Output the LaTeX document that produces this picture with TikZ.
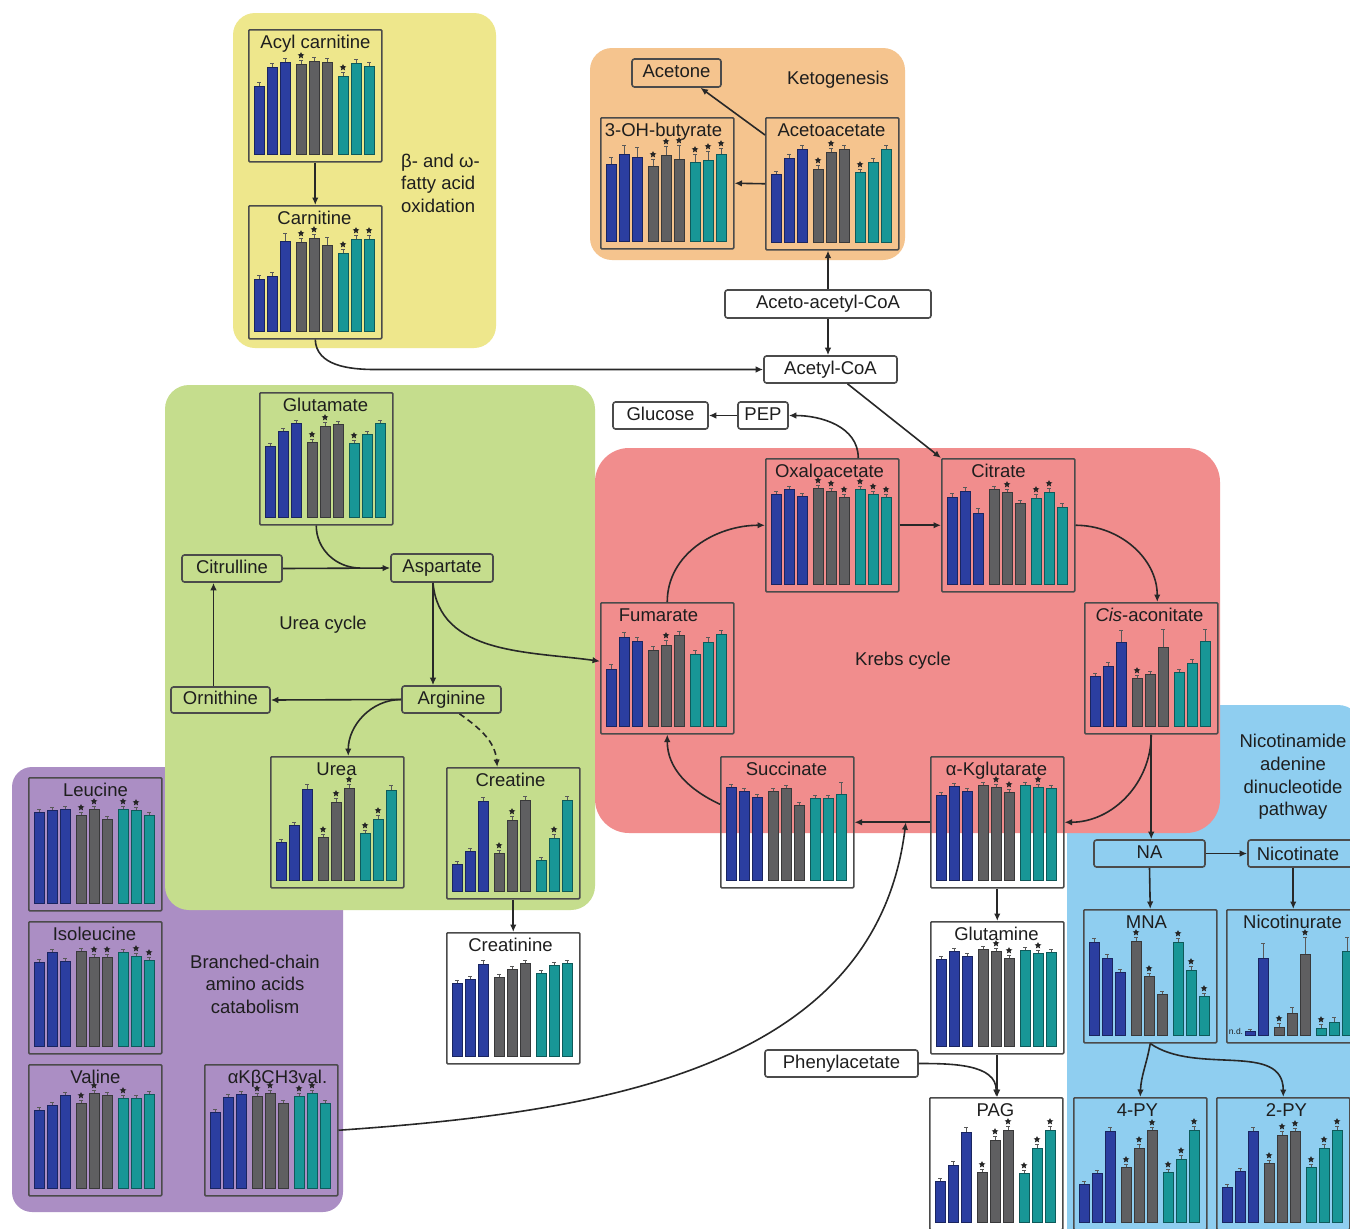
\documentclass[tikz,border=0pt]{standalone}
\usepackage{fontspec}
\setmainfont{Liberation Sans}
\usetikzlibrary{arrows.meta,shapes.geometric,calc}
\definecolor{pyel}{RGB}{238,231,140}
\definecolor{pora}{RGB}{245,196,142}
\definecolor{pgrn}{RGB}{197,221,141}
\definecolor{pred}{RGB}{241,141,141}
\definecolor{ppur}{RGB}{171,142,196}
\definecolor{pblu}{RGB}{143,206,240}
\definecolor{bar0}{RGB}{43,62,160}
\definecolor{bar1}{RGB}{95,95,97}
\definecolor{bar2}{RGB}{24,150,150}
\definecolor{boxc}{RGB}{75,75,75}
\definecolor{linec}{RGB}{40,40,40}
\definecolor{txtc}{RGB}{30,30,30}
\newcommand\labf{\fontsize{18.5}{22.6}\selectfont}
\tikzset{
  cbox/.style={draw=boxc, line width=1.5pt, minimum width=133pt, inner sep=0, rounded corners=1pt},
  lbox/.style={draw=boxc, line width=1.6pt, rounded corners=2.5pt, inner sep=0, font=\labf, text=txtc, text height=13pt, text depth=4pt},
  labt/.style={font=\labf, text=txtc, inner sep=0},
  arr/.style={draw=linec, line width=1.6pt, -{Latex[length=7.5pt,width=6.5pt]}},
  plainline/.style={draw=linec, line width=1.6pt},
  errb/.style={draw=black!65, line width=0.8pt},
  starm/.style={star, star points=5, star point ratio=2.1, minimum size=7pt, inner sep=0, fill=black!85},
}
% #1 name, #2 x, #3 y, #4 height, #5 title, #6 title shift, #7 bars h/star/err
\newcommand\barchart[7]{%
  \node[cbox, minimum height=#4pt, anchor=north west] (#1) at (#2,#3) {};
  \pgfmathsetmacro\tx{#2+66.5+#6}%
  \pgfmathsetmacro\ty{#3+19}%
  \node[labt, anchor=base] (#1-t) at (\tx,\ty) {#5};
  \foreach \hh/\ss/\ee [count=\i from 0] in {#7} {%
    \pgfmathsetmacro\bx{#2+6+13*\i+3*floor(\i/3)}%
    \pgfmathsetmacro\yb{#3+#4-7}%
    \pgfmathsetmacro\yt{\yb-\hh}%
    \pgfmathtruncatemacro\grp{floor(\i/3)}%
    \ifdim\hh pt>0pt
      \filldraw[fill=bar\grp, draw=bar\grp!60!black, line width=0.6pt] (\bx,\yb) rectangle (\bx+10,\yt);
      \draw[errb] (\bx+5,\yt) -- (\bx+5,\yt-\ee) (\bx+3,\yt-\ee) -- (\bx+7,\yt-\ee);
      \ifnum\ss=1 \node[starm] (#1-s\i) at (\bx+5,\yt-\ee-4.5) {};\fi
    \fi
  }%
}
\begin{document}
\begin{tikzpicture}[x=1pt,y=-1pt]
\useasboundingbox (0,0) rectangle (1350,1229);
\clip (0,0) rectangle (1350,1229);
\fill[white] (0,0) rectangle (1350,1229);
% panels
\fill[ppur, rounded corners=20pt] (12,767) rectangle (343,1212);
\fill[pgrn, rounded corners=24pt] (165,385) rectangle (595,910);
\fill[pblu, rounded corners=24pt] (1067,705) rectangle (1362,1260);
\fill[pred, rounded corners=34pt] (595,448) rectangle (1220,833);
\fill[pyel, rounded corners=22pt] (233,13) rectangle (496,348);
\fill[pora, rounded corners=22pt] (590,48) rectangle (905,260);
% panel texts
\node[labt, align=left, anchor=west] (betatxt) at (401,183) {β- and ω-\\fatty acid\\oxidation};
\node[labt] (ketotxt) at (838,80) {Ketogenesis};
\node[labt] (ureatxt) at (323,625) {Urea cycle};
\node[labt] (krebstxt) at (903,661) {Krebs cycle};
\node[labt, align=center] (bcaatxt) at (255,984) {Branched-chain\\amino acids\\catabolism};
\node[labt, align=center] (nadtxt) at (1293,777) {Nicotinamide\\adenine\\dinucleotide\\pathway};
% charts
\barchart{acyl}{248}{29}{132}{Acyl carnitine}{1}{68/0/4,87/0/4,92/0/4,90/1/4,93/0/4,92/0/4,78/1/4,91/0/4,88/0/4}
\barchart{carn}{248}{205}{133}{Carnitine}{0}{52/0/4,55/0/4,90/0/8,89/1/4,93/1/4,86/0/8,78/1/4,92/1/4,92/1/4}
\barchart{ohb}{600}{117}{131}{3-OH-butyrate}{-3}{77/0/7,87/0/9,84/0/10,75/1/7,86/1/9,82/1/14,79/1/8,81/1/9,87/1/6}
\barchart{aca}{765}{117}{132}{Acetoacetate}{0}{68/0/3,84/0/4,93/0/4,73/1/4,90/1/4,93/0/4,70/1/3,80/0/4,93/0/4}
\barchart{glu}{259}{392}{132}{Glutamate}{0}{71/0/3,86/0/3,94/0/3,75/1/3,91/1/4,93/0/3,74/1/3,83/0/3,94/0/3}
\barchart{oxa}{765}{458}{133}{Oxaloacetate}{-2}{90/0/3,95/0/3,88/0/3,96/1/3,93/1/3,87/1/3,95/1/3,90/1/3,87/1/3}
\barchart{cit}{941}{458}{133}{Citrate}{-9}{87/0/4,93/0/4,71/0/5,95/0/3,92/1/3,81/0/3,86/1/4,92/1/4,77/0/4}
\barchart{fum}{600}{602}{131}{Fumarate}{-8}{57/0/5,89/0/5,85/0/4,76/0/4,81/1/5,91/0/4,72/0/4,84/0/5,92/0/4}
\barchart{cis}{1084}{602}{131}{\textit{Cis}-aconitate}{-1}{50/0/3,60/0/4,84/0/12,48/1/3,52/0/3,79/0/18,54/0/3,63/0/4,85/0/12}
\barchart{suc}{720}{756}{131}{Succinate}{0}{93/0/3,89/0/3,83/0/3,89/0/3,92/0/3,75/0/3,82/0/3,82/0/3,86/0/12}
\barchart{akg}{930}{756}{131}{α-Kglutarate}{0}{85/0/3,94/0/3,89/0/3,95/0/3,93/1/3,88/1/3,95/0/3,93/1/3,92/0/3}
\barchart{urea}{270}{756}{131}{Urea}{0}{38/0/3,55/0/3,91/0/5,43/1/3,78/1/4,92/1/4,47/1/3,61/1/4,90/0/5}
\barchart{crt}{446}{767}{131}{Creatine}{-2}{27/0/3,40/0/3,90/0/4,38/1/3,71/1/4,91/0/4,31/0/3,53/1/4,91/0/4}
\barchart{crn}{446}{932}{131}{Creatinine}{-2}{73/0/3,77/0/3,92/0/4,79/0/3,87/0/3,93/0/3,83/0/3,91/0/3,93/0/3}
\barchart{leu}{28}{777}{133}{Leucine}{1}{91/0/3,93/0/3,94/0/3,88/1/3,94/1/3,84/0/3,94/1/3,93/1/3,88/0/3}
\barchart{ile}{28}{921}{132}{Isoleucine}{0}{84/0/3,94/0/3,85/0/3,95/0/3,89/1/3,89/1/3,94/0/3,90/1/3,86/1/3}
\barchart{val}{28}{1064}{131}{Valine}{1}{78/0/3,83/0/3,93/0/3,85/1/3,95/1/3,93/0/3,90/1/3,90/0/3,94/0/3}
\barchart{akb}{204}{1064}{131}{αKβCH3val.}{7}{76/0/3,91/0/3,94/0/3,92/1/3,95/1/3,85/0/3,92/1/3,95/1/3,85/0/3}
\barchart{gln}{930}{921}{132}{Glutamine}{0}{87/0/3,95/0/3,90/0/3,97/0/3,95/1/3,88/1/3,96/0/3,93/1/3,94/0/3}
\barchart{pag}{929}{1097}{132}{PAG}{0}{41/0/3,57/0/4,90/0/5,50/1/3,82/1/4,92/1/4,49/1/3,74/1/4,92/1/4}
\barchart{mna}{1083}{909}{133}{MNA}{-3}{93/0/4,77/0/4,63/0/3,94/1/4,59/1/3,41/0/3,93/1/4,65/1/4,39/1/3}
\barchart{nicu}{1226}{909}{133}{Nicotinurate}{0}{0/0/0,4/0/2,77/0/15,8/1/4,22/0/6,81/1/17,7/1/4,13/0/5,84/0/14}
\barchart{pyf}{1073}{1097}{132}{4-PY}{-2}{38/0/3,49/0/3,91/0/4,55/1/3,74/1/4,92/1/3,50/1/3,63/1/4,92/1/4}
\barchart{pyt}{1216}{1097}{132}{2-PY}{4}{35/0/3,51/0/3,91/0/4,59/1/3,87/1/4,91/1/3,55/1/3,74/1/4,92/1/4}
\node[font=\fontsize{8.5}{9}\selectfont, inner sep=0, text=txtc] (nd) at (1236,1031) {n.d.};
% label boxes
\node[lbox, minimum width=89pt, minimum height=28pt] (acetone) at (676.5,73) {Acetone};
\node[lbox, minimum width=206pt, minimum height=28pt] (aacoa) at (828,304) {Aceto-acetyl-CoA};
\node[lbox, minimum width=133pt, minimum height=27pt] (accoa) at (830.5,369.5) {Acetyl-CoA};
\node[lbox, minimum width=95pt, minimum height=27pt] (gluc) at (660.5,415.5) {Glucose};
\node[lbox, minimum width=50pt, minimum height=27pt] (pep) at (763,415.5) {PEP};
\node[lbox, minimum width=100pt, minimum height=27pt] (citr) at (232,568.5) {Citrulline};
\node[lbox, minimum width=102pt, minimum height=28pt] (asp) at (442,568) {Aspartate};
\node[lbox, minimum width=99pt, minimum height=26pt] (orn) at (220.5,700) {Ornithine};
\node[lbox, minimum width=99pt, minimum height=27pt] (arg) at (451.5,699.5) {Arginine};
\node[lbox, minimum width=153pt, minimum height=27pt] (phe) at (841.5,1063.5) {Phenylacetate};
\node[lbox, minimum width=111pt, minimum height=27pt] (na) at (1149.5,853.5) {NA};
\node[lbox, minimum width=118pt, minimum height=27pt] (nicbox) at (1307,853.5) {};
\node[labt] (nictxt) at (1298,853.5) {Nicotinate};
% connectors
\coordinate (cb) at (375,369.5);
\draw[arr] (acyl.south) -- (carn.north);
\draw[arr] (carn.south) to[out=-88,in=180] (cb) -- (accoa.west);
\draw[arr] ([yshift=-18pt]aca.north west) -- ([xshift=24pt]acetone.south);
\draw[arr] (aca.west) -- (ohb.east);
\draw[arr] (aacoa.north) -- (aacoa.north |- aca.south);
\draw[arr] (aacoa.south) -- (aacoa.south |- accoa.north);
\draw[arr] ([xshift=17pt]accoa.south) -- (cit.north west);
\draw[arr] (pep.west) -- (gluc.east);
\draw[arr] ([xshift=26pt]oxa.north) to[out=90,in=0] (pep.east);
\draw[plainline] ([xshift=-10pt]glu.south) to[out=-90,in=180] ([xshift=-30pt]asp.west);
\draw[arr] (citr.east) -- (asp.west);
\coordinate (aspS) at ([xshift=-9pt]asp.south);
\draw[arr] (aspS) -- (aspS |- arg.north);
\draw[arr] (aspS) to[out=-85,in=172] ([yshift=7pt]fum.west);
\draw[arr] (arg.west) -- (orn.east);
\coordinate (ornN) at ([xshift=-7pt]orn.north);
\draw[arr] (ornN) -- (ornN |- citr.south);
\draw[arr] (arg.west) to[out=180,in=90] ([xshift=11pt]urea.north);
\draw[arr, dash pattern=on 6pt off 4pt] ([xshift=8pt]arg.south) to[out=-35,in=95] ([xshift=-16pt]crt.north);
\draw[arr] (crt.south) -- (crn.north);
\draw[arr] (fum.north) to[out=90,in=180] (oxa.west);
\draw[arr] (oxa.east) -- (cit.west);
\draw[arr] (cit.east) to[out=0,in=90] ([xshift=6pt]cis.north);
\draw[arr] (cis.south) to[out=-90,in=0] (akg.east);
\draw[arr] (cis.south) -- (cis.south |- na.north);
\draw[arr] (akg.west) -- (suc.east);
\draw[arr] ([yshift=18pt]suc.west) to[out=155,in=-90] (fum.south);
\coordinate (junc) at ($(suc.east)!0.68!(akg.west)$);
\draw[arr] (akb.east) to[out=4,in=-97] (junc);
\draw[arr] (akg.south) -- (gln.north);
\draw[arr] (gln.south) -- (gln.south |- pag.north);
\draw[arr] (phe.east) to[out=0,in=90] (pag.north);
\draw[arr] (na.east) -- (nicbox.west);
\draw[arr] (nicu.north |- nicbox.south) -- (nicu.north);
\draw[arr] (na.south) -- (mna.north);
\draw[arr] (mna.south) to[out=-100,in=88] (pyf.north);
\draw[arr] (mna.south) to[out=-35,in=90] (pyt.north);
\end{tikzpicture}
\end{document}
